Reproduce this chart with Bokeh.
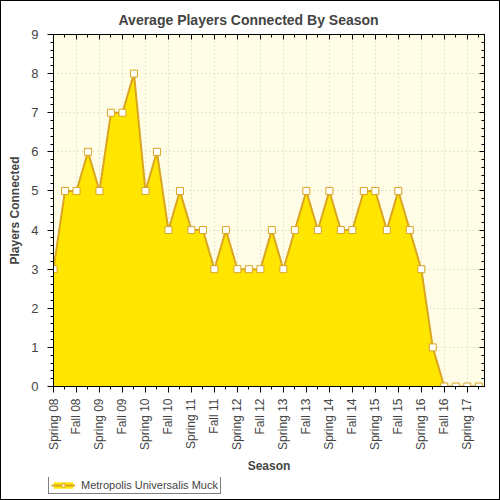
import math
from bokeh.plotting import figure
from bokeh.layouts import column
from bokeh.models import (FixedTicker, LinearAxis, Range1d, Legend, LegendItem,
                          ColumnDataSource)
from bokeh.embed import file_html
from bokeh.resources import INLINE

seasons = ["Spring 08", "Summer 08", "Fall 08", "Winter 08",
           "Spring 09", "Summer 09", "Fall 09", "Winter 09",
           "Spring 10", "Summer 10", "Fall 10", "Winter 10",
           "Spring 11", "Summer 11", "Fall 11", "Winter 11",
           "Spring 12", "Summer 12", "Fall 12", "Winter 12",
           "Spring 13", "Summer 13", "Fall 13", "Winter 13",
           "Spring 14", "Summer 14", "Fall 14", "Winter 14",
           "Spring 15", "Summer 15", "Fall 15", "Winter 15",
           "Spring 16", "Summer 16", "Fall 16", "Winter 16",
           "Spring 17", "Summer 17"]
players = [3, 5, 5, 6, 5, 7, 7, 8, 5, 6, 4, 5, 4, 4, 3, 4, 3, 3, 3,
           4, 3, 4, 5, 4, 5, 4, 4, 5, 5, 4, 5, 4, 3, 1, 0, 0, 0, 0]
tick_labels = ["Spring 08", "Fall 08", "Spring 09", "Fall 09", "Spring 10",
               "Fall 10", "Spring 11", "Fall 11", "Spring 12", "Fall 12",
               "Spring 13", "Fall 13", "Spring 14", "Fall 14", "Spring 15",
               "Fall 15", "Spring 16", "Fall 16", "Spring 17"]
y_ticks = [0, 1, 2, 3, 4, 5, 6, 7, 8, 9]
series_name = "Metropolis Universalis Muck"

FONT = "Liberation Sans"
LINE = "#DAA520"
FILL = "#FFE600"

idx = list(range(len(seasons)))
src = ColumnDataSource(dict(x=idx, y=players, season=seasons))

p = figure(width=498, height=476, output_backend="svg", toolbar_location=None,
           x_range=Range1d(0, 37.5), y_range=Range1d(0, 9),
           min_border_left=52, min_border_right=15, min_border_top=33,
           min_border_bottom=91,
           background_fill_color="#FFFDE6", border_fill_color="white",
           outline_line_color="black", outline_line_width=1)
p.frame_align = False

p.title.text = "Average Players Connected By Season"
p.title.text_font = FONT
p.title.text_font_size = "14px"
p.title.text_font_style = "bold"
p.title.align = "left"
p.title.offset = 65
p.title.standoff = 14

xt_major = [i for i in idx if i % 2 == 0]
xt_minor = [i for i in idx if i % 2 == 1]
yt_minor = [i / 5 for i in range(0, 46)]

x_ticker = FixedTicker(ticks=xt_major, minor_ticks=xt_minor)
y_ticker = FixedTicker(ticks=y_ticks, minor_ticks=yt_minor)

xa = p.xaxis[0]
xa.ticker = x_ticker
xa.major_label_overrides = {i: tick_labels[k] for k, i in enumerate(xt_major)}
xa.major_label_orientation = math.pi / 2
xa.major_label_text_font = FONT
xa.major_label_text_font_size = "12px"
xa.axis_label = "Season"
xa.axis_label_text_font = FONT
xa.axis_label_text_font_size = "12px"
xa.axis_label_text_font_style = "bold"
xa.axis_label_standoff = 6
xa.major_tick_out = 6
xa.major_tick_in = 0
xa.minor_tick_out = 3
xa.minor_tick_in = 0
xa.major_label_standoff = 6

ya = p.yaxis[0]
ya.ticker = y_ticker
ya.major_label_text_font = FONT
ya.major_label_text_font_size = "13px"
ya.axis_label = "Players Connected"
ya.axis_label_text_font = FONT
ya.axis_label_text_font_size = "12px"
ya.axis_label_text_font_style = "bold"
ya.axis_label_standoff = 6
ya.major_tick_out = 6
ya.major_tick_in = 0
ya.minor_tick_out = 3
ya.minor_tick_in = 0
ya.major_label_standoff = 9

for loc, tk in (("right", y_ticker), ("above", x_ticker)):
    ax = LinearAxis(ticker=tk, major_label_text_font_size="0px",
                    major_tick_in=5, major_tick_out=0,
                    minor_tick_in=3, minor_tick_out=0,
                    major_label_standoff=0, axis_line_color="black")
    p.add_layout(ax, loc)

for g in (p.xgrid[0], p.ygrid[0]):
    g.grid_line_color = "#C8C8C8"
    g.grid_line_dash = "1 3"
    g.grid_line_width = 1
p.xgrid[0].ticker = x_ticker
p.ygrid[0].ticker = y_ticker

p.varea(x="x", y1=0, y2="y", source=src, fill_color=FILL)
p.line(x="x", y="y", source=src, line_color=LINE, line_width=2)
p.scatter(x="x", y="y", source=src, marker="square", size=7,
          fill_color="white", line_color=LINE, line_width=1)

# legend strip below the chart
lg = figure(width=498, height=22, output_backend="svg", toolbar_location=None,
            x_range=Range1d(0, 1), y_range=Range1d(0, 1),
            x_axis_type=None, y_axis_type=None, min_border=0,
            min_border_left=0, min_border_right=0, min_border_top=0,
            min_border_bottom=0,
            outline_line_color=None, background_fill_color="white",
            border_fill_color="white")
lg.frame_align = False
la = lg.varea(x="x", y1=0, y2="y", source=src, fill_color=FILL, visible=False)
ll = lg.line(x="x", y="y", source=src, line_color=LINE, line_width=2,
             visible=False)
lp = lg.scatter(x="x", y="y", source=src, marker="square", size=7,
                fill_color="white", line_color=LINE, line_width=1,
                visible=False)
legend = Legend(items=[LegendItem(label=series_name, renderers=[la, ll, lp])],
                location=(47, 5), orientation="horizontal",
                label_text_font=FONT, label_text_font_size="11px",
                label_height=10, glyph_height=8, glyph_width=24,
                padding=2, spacing=0, margin=0,
                border_line_color="black", border_line_width=1,
                background_fill_color="white", background_fill_alpha=1,
                label_standoff=6)
lg.add_layout(legend)

layout = column(p, lg, spacing=0)
layout.styles = {"border": "1px solid black"}

open("out.html", "w").write(file_html(layout, INLINE))
